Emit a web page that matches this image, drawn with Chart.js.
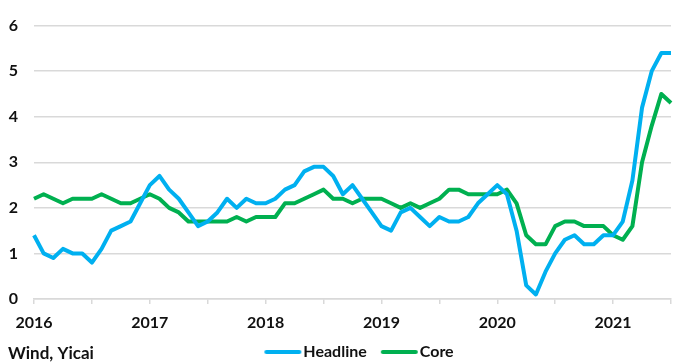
<!DOCTYPE html>
<html>
<head>
<meta charset="utf-8">
<script src="https://cdn.jsdelivr.net/npm/chart.js@4"></script>
<style>
html,body{margin:0;padding:0;background:#fff;}
#wrap{width:681px;height:363px;position:relative;}
</style>
</head>
<body>
<div id="wrap"><canvas id="c" width="681" height="363"></canvas></div>
<script>
const months = [];
for (let y = 2016; y <= 2021; y++) {
  for (let m = 1; m <= 12; m++) {
    if (y === 2021 && m > 7) break;
    months.push(y + '-' + String(m).padStart(2, '0'));
  }
}
const headline = [
  1.4, 1.0, 0.9, 1.1, 1.0, 1.0, 0.8, 1.1, 1.5, 1.6, 1.7, 2.1,
  2.5, 2.7, 2.4, 2.2, 1.9, 1.6, 1.7, 1.9, 2.2, 2.0, 2.2, 2.1,
  2.1, 2.2, 2.4, 2.5, 2.8, 2.9, 2.9, 2.7, 2.3, 2.5, 2.2, 1.9,
  1.6, 1.5, 1.9, 2.0, 1.8, 1.6, 1.8, 1.7, 1.7, 1.8, 2.1, 2.3,
  2.5, 2.3, 1.5, 0.3, 0.1, 0.6, 1.0, 1.3, 1.4, 1.2, 1.2, 1.4,
  1.4, 1.7, 2.6, 4.2, 5.0, 5.4, 5.4
];
const core = [
  2.2, 2.3, 2.2, 2.1, 2.2, 2.2, 2.2, 2.3, 2.2, 2.1, 2.1, 2.2,
  2.3, 2.2, 2.0, 1.9, 1.7, 1.7, 1.7, 1.7, 1.7, 1.8, 1.7, 1.8,
  1.8, 1.8, 2.1, 2.1, 2.2, 2.3, 2.4, 2.2, 2.2, 2.1, 2.2, 2.2,
  2.2, 2.1, 2.0, 2.1, 2.0, 2.1, 2.2, 2.4, 2.4, 2.3, 2.3, 2.3,
  2.3, 2.4, 2.1, 1.4, 1.2, 1.2, 1.6, 1.7, 1.7, 1.6, 1.6, 1.6,
  1.4, 1.3, 1.6, 3.0, 3.8, 4.5, 4.3
];
const yTicks = [0, 1, 2, 3, 4, 5, 6];
const seriesNames = ['Headline', 'Core'];
const sourceText = 'Wind, Yicai';

const FONT = 'Lato';
const GRID = '#d9d9d9';
const TEXT = '#111111';
const BLUE = '#00B0F0';
const GREEN = '#00B050';

// legend swatch image (line sits near the right edge so it hugs the label)
function swatch(color) {
  const c = document.createElement('canvas');
  c.width = 56; c.height = 6;
  const x = c.getContext('2d');
  x.strokeStyle = color;
  x.lineWidth = 4;
  x.lineCap = 'round';
  x.beginPath();
  x.moveTo(20, 3);
  x.lineTo(53, 3);
  x.stroke();
  return c;
}

const sourcePlugin = {
  id: 'sourceText',
  beforeDraw(chart) {
    const lg = chart.legend;
    if (lg && !lg._shifted) {
      const dx = 18, dy = 354 - (lg.top + 3 + 10);
      lg.left += dx; lg.right += dx;
      lg.top += dy; lg.bottom += dy;
      lg._shifted = true;
    }
  },
  afterDraw(chart) {
    const ctx = chart.ctx;
    ctx.save();
    ctx.font = 'bold 17px ' + FONT;
    ctx.fillStyle = TEXT;
    ctx.textBaseline = 'middle';
    ctx.textAlign = 'left';
    ctx.fillText(sourceText, 8, 354);
    ctx.restore();
  }
};

new Chart(document.getElementById('c'), {
  type: 'line',
  data: {
    labels: months,
    datasets: [
      { label: seriesNames[0], data: headline, borderColor: BLUE, backgroundColor: BLUE, borderWidth: 4, pointRadius: 0, pointStyle: swatch(BLUE), tension: 0, borderJoinStyle: 'round' },
      { label: seriesNames[1], data: core, borderColor: GREEN, backgroundColor: GREEN, borderWidth: 4, pointRadius: 0, pointStyle: swatch(GREEN), tension: 0, borderJoinStyle: 'round' }
    ]
  },
  options: {
    responsive: false,
    animation: false,
    events: [],
    layout: { padding: { left: 0, right: 10, top: 15, bottom: 0 } },
    plugins: {
      tooltip: { enabled: false },
      legend: {
        position: 'bottom',
        labels: {
          usePointStyle: true,
          pointStyleWidth: 42,
          boxHeight: 4,
          padding: 3,
          color: TEXT,
          font: { family: FONT, size: 16, weight: 'bold' }
        }
      }
    },
    scales: {
      x: {
        type: 'category',
        offset: false,
        grid: {
          drawOnChartArea: false,
          drawTicks: true,
          tickLength: 5,
          color: (ctx) => (ctx.index % 6 === 0 ? GRID : 'rgba(0,0,0,0)'),
          lineWidth: 1.5
        },
        border: { color: GRID, width: 1.5 },
        ticks: {
          autoSkip: false,
          maxRotation: 0,
          padding: 9,
          color: TEXT,
          font: { family: FONT, size: 16, weight: 'bold' },
          callback: function (v, i) {
            const lab = months[i];
            return lab.endsWith('-01') ? lab.slice(0, 4) : '';
          }
        },
        afterFit: (s) => { s.height = 35; }
      },
      y: {
        min: 0,
        max: 6,
        afterBuildTicks: (s) => { s.ticks = yTicks.map(v => ({ value: v })); },
        grid: { color: GRID, lineWidth: 1.5, drawTicks: false },
        border: { display: false },
        ticks: {
          padding: 16,
          color: TEXT,
          font: { family: FONT, size: 16, weight: 'bold' }
        },
        afterFit: (s) => { s.width = 34; }
      }
    }
  },
  plugins: [sourcePlugin]
});
</script>
</body>
</html>
